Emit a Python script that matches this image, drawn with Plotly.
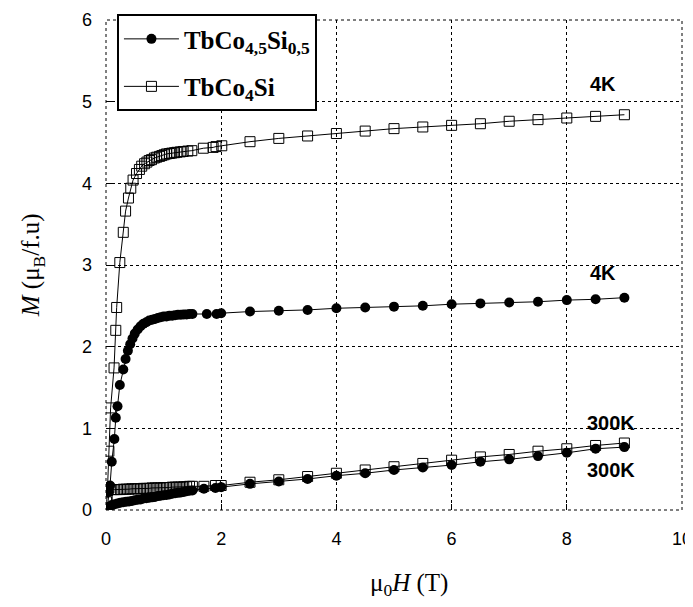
import plotly.graph_objects as go

# TbCo4.5Si0.5 at 4 K (filled circles)
h_c4 = [0.02, 0.05, 0.07, 0.10, 0.145, 0.17, 0.20, 0.24, 0.30, 0.34, 0.38, 0.42, 0.46, 0.50,
        0.55, 0.60, 0.65, 0.70, 0.75, 0.80, 0.85, 0.90, 0.95, 1.00, 1.05, 1.10, 1.15, 1.20,
        1.25, 1.30, 1.35, 1.40, 1.45, 1.50, 1.75, 1.92, 2.00, 2.5, 3.0, 3.5, 4.0, 4.5, 5.0,
        5.5, 6.0, 6.5, 7.0, 7.5, 8.0, 8.5, 9.0]
m_c4 = [0.02, 0.22, 0.30, 0.59, 0.87, 1.13, 1.27, 1.53, 1.72, 1.85, 1.95, 2.03, 2.10, 2.16,
        2.21, 2.25, 2.28, 2.30, 2.32, 2.33, 2.34, 2.35, 2.36, 2.37, 2.37, 2.38, 2.38, 2.385,
        2.39, 2.39, 2.395, 2.395, 2.40, 2.40, 2.40, 2.40, 2.41, 2.43, 2.44, 2.45, 2.47, 2.48,
        2.49, 2.50, 2.52, 2.53, 2.54, 2.55, 2.57, 2.58, 2.60]

# TbCo4Si at 4 K (open squares)
h_s4 = [0.02, 0.05, 0.08, 0.14, 0.17, 0.185, 0.24, 0.30, 0.34, 0.39, 0.43, 0.47, 0.53, 0.58,
        0.62, 0.67, 0.71, 0.75, 0.79, 0.84, 0.88, 0.93, 0.97, 1.01, 1.05, 1.10, 1.14, 1.19,
        1.23, 1.29, 1.34, 1.42, 1.49, 1.69, 1.86, 1.91, 2.01, 2.5, 3.0, 3.5, 4.0, 4.5, 5.0,
        5.5, 6.0, 6.5, 7.0, 7.5, 8.0, 8.5, 9.0]
m_s4 = [0.15, 0.72, 1.25, 1.74, 2.20, 2.48, 3.03, 3.40, 3.66, 3.82, 3.94, 4.04, 4.12, 4.17,
        4.21, 4.24, 4.26, 4.28, 4.29, 4.31, 4.32, 4.33, 4.34, 4.35, 4.36, 4.365, 4.37, 4.375,
        4.38, 4.385, 4.39, 4.395, 4.40, 4.43, 4.44, 4.45, 4.46, 4.51, 4.55, 4.58, 4.61, 4.64,
        4.67, 4.69, 4.71, 4.73, 4.76, 4.78, 4.80, 4.82, 4.84]

# 300 K field grid
h_300 = [0.01, 0.03, 0.05, 0.10, 0.15, 0.20, 0.25, 0.30, 0.35, 0.40, 0.45, 0.50, 0.55, 0.60,
         0.65, 0.70, 0.75, 0.80, 0.85, 0.90, 0.95, 1.00, 1.05, 1.10, 1.15, 1.20, 1.25, 1.30,
         1.35, 1.40, 1.45, 1.50, 1.70, 1.90, 2.00, 2.5, 3.0, 3.5, 4.0, 4.5, 5.0, 5.5, 6.0,
         6.5, 7.0, 7.5, 8.0, 8.5, 9.0]
# TbCo4.5Si0.5 at 300 K (filled circles)
m_c300 = [0.00, 0.02, 0.04, 0.06, 0.07, 0.08, 0.09, 0.095, 0.10, 0.105, 0.11, 0.12, 0.125,
          0.13, 0.14, 0.145, 0.15, 0.155, 0.16, 0.17, 0.175, 0.18, 0.185, 0.19, 0.20, 0.205,
          0.21, 0.215, 0.22, 0.23, 0.235, 0.24, 0.26, 0.27, 0.28, 0.32, 0.35, 0.38, 0.42,
          0.45, 0.49, 0.52, 0.55, 0.59, 0.62, 0.66, 0.70, 0.75, 0.77]
# TbCo4Si at 300 K (open squares)
m_s300 = [0.10, 0.24, 0.27, 0.25, 0.25, 0.25, 0.25, 0.255, 0.255, 0.255, 0.26, 0.26, 0.26,
          0.26, 0.265, 0.265, 0.265, 0.27, 0.27, 0.27, 0.27, 0.275, 0.275, 0.275, 0.28, 0.28,
          0.28, 0.28, 0.285, 0.285, 0.29, 0.29, 0.29, 0.30, 0.30, 0.34, 0.37, 0.41, 0.45,
          0.49, 0.53, 0.57, 0.61, 0.65, 0.68, 0.72, 0.75, 0.79, 0.82]

name_c = "TbCo<sub>4,5</sub>Si<sub>0,5</sub>"
name_s = "TbCo<sub>4</sub>Si"
x_title = "μ<sub>0</sub><i>H</i> (T)"
y_title = "<i>M</i> (μ<sub>B</sub>/f.u)"

labels = [("4K", 8.62, 5.22), ("4K", 8.62, 2.90), ("300K", 8.77, 1.06), ("300K", 8.77, 0.49)]

circ = dict(symbol="circle", size=10, color="black")
sq = dict(symbol="square-open", size=10, color="black", line=dict(width=1, color="black"))
ln = dict(color="black", width=1)
serif = "Times New Roman, Liberation Serif"
sans = "Arial, Liberation Sans"

fig = go.Figure()
fig.add_trace(go.Scatter(x=h_c4, y=m_c4, mode="lines+markers", name=name_c, marker=circ,
                         line=ln, legendgroup="a"))
fig.add_trace(go.Scatter(x=h_s4, y=m_s4, mode="lines+markers", name=name_s, marker=sq,
                         line=ln, legendgroup="b"))
fig.add_trace(go.Scatter(x=h_300, y=m_c300, mode="lines+markers", showlegend=False, marker=circ, line=ln))
fig.add_trace(go.Scatter(x=h_300, y=m_s300, mode="lines+markers", showlegend=False, marker=sq, line=ln))

for t, x, y in labels:
    fig.add_annotation(x=x, y=y, text="<b>" + t + "</b>", showarrow=False,
                       font=dict(family=sans, size=20, color="black"))

# axis titles
fig.add_annotation(xref="paper", yref="paper", x=0.526, y=-0.153, text=x_title,
                   showarrow=False, xanchor="center", yanchor="middle",
                   font=dict(family=serif, size=25, color="black"))
fig.add_annotation(xref="paper", yref="paper", x=-0.128, y=0.5, text=y_title, textangle=-90,
                   showarrow=False, xanchor="center", yanchor="middle",
                   font=dict(family=serif, size=25, color="black"))

# dashed frame around plotting area
fig.add_shape(type="rect", xref="paper", yref="paper", x0=0, y0=0, x1=1, y1=1,
              line=dict(color="black", width=1, dash="3px,3px"), layer="below")

axis_common = dict(showline=False, zeroline=False, showgrid=True, gridcolor="black",
                   gridwidth=1, griddash="3px,3px", ticks="inside", ticklen=6,
                   tickcolor="black", tickwidth=1, automargin=False,
                   ticklabeloverflow="allow",
                   tickfont=dict(family=sans, size=18, color="black"))

fig.update_xaxes(range=[0, 10], dtick=2, ticklabelstandoff=16, **axis_common)
fig.update_yaxes(range=[0, 6], dtick=1, ticklabelstandoff=13, **axis_common)

# page body adds an 8px offset; figure sized so the plot lands where the reference has it
fig.update_layout(
    width=685, height=591,
    margin=dict(l=98, r=11, t=6, b=89),
    plot_bgcolor="white", paper_bgcolor="white",
    legend=dict(x=0.019, y=1.012, xanchor="left", yanchor="top",
                bordercolor="black", borderwidth=2, bgcolor="white",
                itemwidth=55, tracegroupgap=12,
                font=dict(family=serif, size=25, color="black", weight="bold")),
)

fig.write_html("out.html")
